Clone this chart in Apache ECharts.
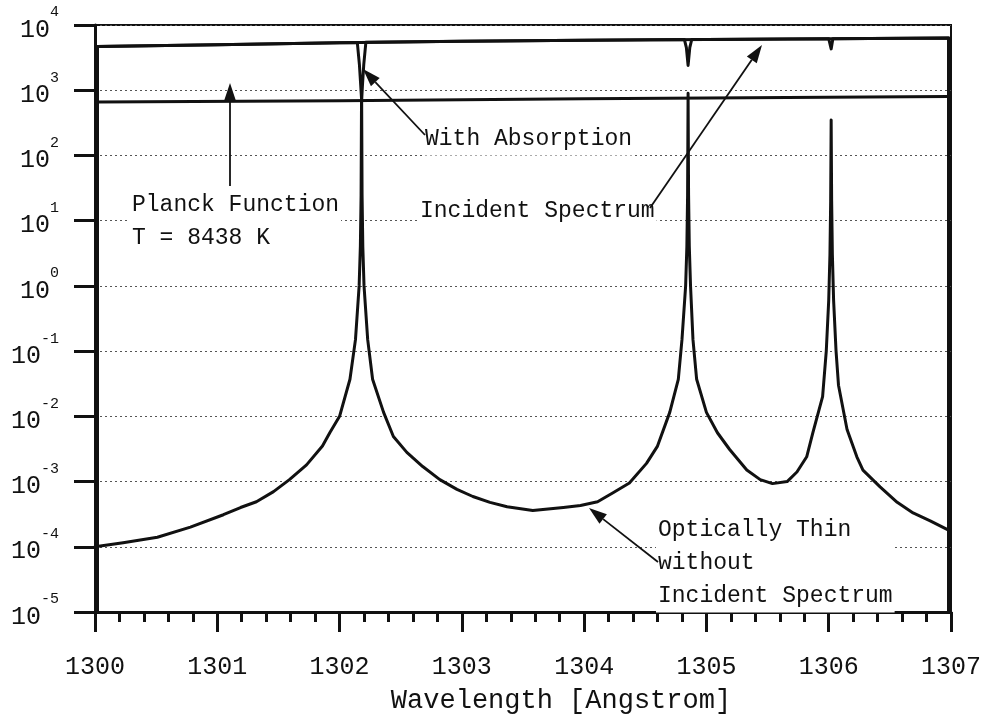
<!DOCTYPE html>
<html><head><meta charset="utf-8">
<script src="https://cdn.jsdelivr.net/npm/echarts@6/dist/echarts.min.js"></script>
<style>html,body{margin:0;padding:0;background:#fff}#c{width:987px;height:719px}</style>
</head><body><div id="c"></div>
<script>
// ---- data (wavelength in Angstrom, intensity) ----
const xMin = 1300, xMax = 1307;
const yMin = 1e-5, yMax = 1e4;

const planck = [[1300.02,660],[1302,690],[1304,740],[1305,760],[1306.98,800]];

const incident = [[1300.02,1e-5],[1300.02,4700],[1301,5000],[1302,5350],[1303,5650],
  [1304,5850],[1305,6000],[1306,6150],[1306.98,6300],[1306.98,1e-5]];

const withAbsorption = [[1300.02,1e-5],[1300.02,4700],[1301,5000],[1302,5350],
  [1302.145,5400],[1302.162,2500],[1302.174,1100],[1302.18,720],[1302.186,1100],[1302.198,2500],[1302.215,5420],
  [1303,5650],[1304,5850],
  [1304.82,5980],[1304.836,4500],[1304.85,2400],[1304.864,4500],[1304.88,5990],
  [1305,6000],[1306,6150],[1306.006,6150],[1306.02,4300],[1306.034,6160],
  [1306.98,6300],[1306.98,1e-5]];

const opticallyThin = [[1300,1.0e-4],[1300.23,1.15e-4],[1300.51,1.4e-4],[1300.78,2.0e-4],[1301.05,3.1e-4],
  [1301.19,4.0e-4],[1301.32,4.9e-4],[1301.46,7.0e-4],[1301.59,1.07e-3],[1301.73,1.8e-3],
  [1301.86,3.5e-3],[1301.92,5.6e-3],[1302.0,1e-2],[1302.085,0.037],[1302.13,0.15],[1302.16,1],[1302.17,4],[1302.176,25],
  [1302.18,1200],[1302.184,25],[1302.19,4],[1302.2,1],[1302.23,0.15],[1302.27,0.037],[1302.36,0.0115],
  [1302.44,4.9e-3],[1302.55,2.8e-3],[1302.68,1.7e-3],[1302.82,1.07e-3],[1302.96,7.6e-4],[1303.09,5.9e-4],
  [1303.23,4.8e-4],[1303.37,4.1e-4],[1303.58,3.6e-4],[1303.83,4.0e-4],[1303.97,4.3e-4],
  [1304.11,4.9e-4],[1304.24,6.8e-4],[1304.37,9.5e-4],[1304.51,1.9e-3],[1304.6,3.5e-3],[1304.7,0.0115],[1304.77,0.037],[1304.80,0.15],
  [1304.83,1],[1304.84,4],[1304.846,25],[1304.85,900],[1304.854,25],[1304.86,4],[1304.87,1],[1304.89,0.15],
  [1304.92,0.037],[1305.0,0.0115],[1305.09,5.6e-3],[1305.19,3.1e-3],[1305.33,1.5e-3],[1305.44,1.07e-3],
  [1305.54,9.3e-4],[1305.66,1.0e-3],[1305.74,1.4e-3],[1305.82,2.4e-3],
  [1305.87,5.6e-3],[1305.95,0.02],[1305.98,0.1],[1306.0,0.6],[1306.01,3],[1306.016,20],[1306.02,350],
  [1306.024,20],[1306.03,3],[1306.04,0.6],[1306.06,0.1],[1306.08,0.03],[1306.15,6.3e-3],[1306.23,2.4e-3],[1306.28,1.5e-3],
  [1306.42,8.3e-4],[1306.56,4.8e-4],[1306.69,3.3e-4],[1306.83,2.5e-4],[1306.98,1.8e-4]];

const xTitle = 'Wavelength [Angstrom]';
const notes = {
  planck: 'Planck Function\nT = 8438 K',
  absorption: 'With Absorption',
  incident: 'Incident Spectrum',
  thin: 'Optically Thin\nwithout\nIncident Spectrum'
};

const MONO = "'Liberation Mono','DejaVu Sans Mono',monospace";
const INK = '#111';

const chart = echarts.init(document.getElementById('c'), null, {renderer:'canvas'});

function lineSeries(name, data, z){
  return {name, type:'line', data, showSymbol:false, symbol:'none', smooth:false, z:z||3,
    lineStyle:{color:INK, width:3, join:'round', cap:'round'}, silent:true};
}

function arrow(x1,y1,x2,y2){
  const dx=x2-x1, dy=y2-y1, L=Math.hypot(dx,dy), ux=dx/L, uy=dy/L;
  const hl=18, hw=6;
  const bx=x2-ux*hl, by=y2-uy*hl;
  return [
    {type:'line', z:60, shape:{x1,y1,x2:bx,y2:by}, style:{stroke:INK, lineWidth:1.8}},
    {type:'polygon', z:60, shape:{points:[[x2,y2],[bx-uy*hw,by+ux*hw],[bx+uy*hw,by-ux*hw]]}, style:{fill:INK}}
  ];
}

function noteText(x,y,text,va){
  return {type:'text', z:50, x, y, style:{text, font:'23px '+MONO, fill:INK, lineHeight:33,
    align:'left', verticalAlign:va||'middle', backgroundColor:'#fff', padding:[0,2,0,2]}};
}

const graphics = [
  noteText(130,188.5,notes.planck,'top'),
  noteText(423,139,notes.absorption),
  noteText(418,211,notes.incident),
  noteText(656,513.5,notes.thin,'top'),
  ...arrow(230,186,230,83),
  ...arrow(425,135,363,69),
  ...arrow(650,208,762,45),
  ...arrow(658,562,589,508)
];

chart.setOption({
  animation:false,
  backgroundColor:'#fff',
  grid:{left:95, right:36, top:25, bottom:105, show:true, borderColor:INK, borderWidth:2, backgroundColor:'transparent'},
  xAxis:{type:'value', min:xMin, max:xMax, interval:1,
    axisLine:{show:true, onZero:false, lineStyle:{color:INK, width:3}},
    axisTick:{show:true, inside:false, length:20, lineStyle:{color:INK, width:3}},
    minorTick:{show:true, splitNumber:5, length:10, lineStyle:{color:INK, width:3}},
    splitLine:{show:false},
    axisLabel:{color:INK, fontFamily:MONO, fontSize:25, margin:43, formatter:v=>String(v)},
    name:xTitle, nameLocation:'middle', nameGap:75,
    nameTextStyle:{color:INK, fontFamily:MONO, fontSize:27, padding:[0,0,0,76]}
  },
  yAxis:{type:'log', logBase:10, min:yMin, max:yMax, splitNumber:9,
    axisLine:{show:true, lineStyle:{color:INK, width:3}},
    axisTick:{show:true, inside:false, length:21, lineStyle:{color:INK, width:3}},
    splitLine:{show:true, lineStyle:{color:'#555', width:1, type:[2,3]}},
    axisLabel:{margin:36, padding:[10,0,0,0],
      formatter:v=>'{b|10}{e|'+Math.round(Math.log10(v))+'}',
      rich:{
        b:{fontFamily:MONO, fontSize:25, color:INK, lineHeight:50, verticalAlign:'middle'},
        e:{fontFamily:MONO, fontSize:15, color:INK, lineHeight:15, verticalAlign:'top'}
      }}
  },
  series:[
    lineSeries('Incident Spectrum', incident, 3),
    lineSeries('With Absorption', withAbsorption, 4),
    lineSeries('Planck Function', planck, 3),
    lineSeries('Optically Thin', opticallyThin, 5)
  ],
  graphic:graphics
});
</script></body></html>
